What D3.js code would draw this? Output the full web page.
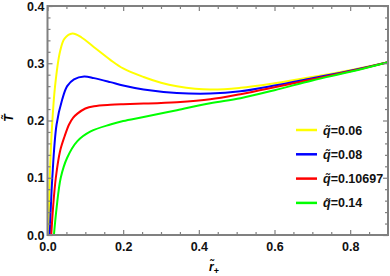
<!DOCTYPE html>
<html>
<head>
<meta charset="utf-8">
<script src="https://cdn.jsdelivr.net/npm/d3@7"></script>
<style>
  body { margin: 0; background: #fff; }
  svg text { font-family: "Liberation Sans", Arial, sans-serif; font-weight: bold; }
</style>
</head>
<body>
<svg id="chart"></svg>
<script>
// values
const qLabels = ["0.06", "0.08", "0.10697", "0.14"];
const colors = ["#ffff00", "#0000ff", "#ff0000", "#00ff00"];

const r006 = [0.003, 0.006, 0.012, 0.02, 0.033, 0.045, 0.066, 0.09, 0.123, 0.166, 0.2, 0.254, 0.3, 0.342, 0.43, 0.51, 0.6, 0.7, 0.8, 0.9];
const t006 = [0, 0.1, 0.19, 0.26, 0.32, 0.343, 0.352, 0.345, 0.328, 0.306, 0.291, 0.276, 0.266, 0.26, 0.254, 0.257, 0.265, 0.276, 0.288, 0.302];

const r008 = [0.006, 0.0127, 0.024, 0.039, 0.052, 0.07, 0.097, 0.123, 0.166, 0.2, 0.254, 0.342, 0.43, 0.51, 0.6, 0.7, 0.8, 0.9];
const t008 = [0, 0.1, 0.193, 0.237, 0.26, 0.272, 0.277, 0.274, 0.267, 0.261, 0.254, 0.248, 0.247, 0.251, 0.261, 0.274, 0.287, 0.302];

const r0107 = [0.01, 0.0146, 0.022, 0.033, 0.045, 0.057, 0.068, 0.079, 0.1, 0.123, 0.166, 0.2, 0.254, 0.342, 0.43, 0.51, 0.6, 0.7, 0.8, 0.9];
const t0107 = [0, 0.047, 0.1, 0.146, 0.172, 0.193, 0.205, 0.212, 0.221, 0.225, 0.2275, 0.2285, 0.2295, 0.232, 0.237, 0.246, 0.258, 0.272, 0.286, 0.302];

const r014 = [0.017, 0.024, 0.035, 0.052, 0.079, 0.114, 0.166, 0.2, 0.254, 0.342, 0.43, 0.51, 0.6, 0.7, 0.8, 0.9];
const t014 = [0, 0.047, 0.1, 0.135, 0.164, 0.181, 0.193, 0.199, 0.206, 0.218, 0.23, 0.239, 0.253, 0.27, 0.285, 0.302];

const xMajor = [0, 0.2, 0.4, 0.6, 0.8];
const yMajor = [0, 0.1, 0.2, 0.3, 0.4];

const width = 390, height = 276;
const margin = { top: 6, right: 2, bottom: 41, left: 47.5 };
const innerW = width - margin.left - margin.right;
const innerH = height - margin.top - margin.bottom;

const svg = d3.select("#chart").attr("width", width).attr("height", height);
const g = svg.append("g").attr("transform", `translate(${margin.left},${margin.top})`);

const x = d3.scaleLinear().domain([0, 0.9]).range([0, innerW]);
const y = d3.scaleLinear().domain([0, 0.4]).range([innerH, 0]);

const series = [
    { r: r006, t: t006 },
    { r: r008, t: t008 },
    { r: r0107, t: t0107 },
    { r: r014, t: t014 }
];

g.append("clipPath").attr("id", "clip")
    .append("rect").attr("width", innerW).attr("height", innerH);

const line = d3.line()
    .x(d => x(d[0]))
    .y(d => y(d[1]))
    .curve(d3.curveCatmullRom.alpha(0.5));

const curves = g.append("g").attr("clip-path", "url(#clip)");
series.forEach((s, i) => {
    curves.append("path")
        .datum(s.r.map((v, k) => [v, s.t[k]]))
        .attr("fill", "none")
        .attr("stroke", colors[i])
        .attr("stroke-width", 2)
        .attr("d", line);
});

// frame ticks (inward, all four sides)
const xMinor = d3.range(0.05, 0.9, 0.05).filter(v => !xMajor.some(m => Math.abs(m - v) < 1e-6));
const yMinor = d3.range(0.02, 0.4, 0.02).filter(v => !yMajor.some(m => Math.abs(m - v) < 1e-6));

function styleAxis(sel) {
    sel.select(".domain").remove();
    sel.selectAll("line").attr("stroke", "#808080").attr("stroke-width", 1.2);
    sel.selectAll("text").attr("fill", "#111").style("font-size", "12.5px");
}

// major ticks with labels
g.append("g").attr("transform", `translate(0,${innerH})`)
    .call(d3.axisBottom(x).tickValues(xMajor).tickSize(-5).tickPadding(7).tickFormat(d3.format(".1f")))
    .call(styleAxis);
g.append("g")
    .call(d3.axisLeft(y).tickValues(yMajor).tickSize(-5).tickPadding(3).tickFormat(d3.format(".1f")))
    .call(styleAxis);
g.append("g")
    .call(d3.axisTop(x).tickValues(xMajor).tickSize(-5).tickFormat(""))
    .call(styleAxis);
g.append("g").attr("transform", `translate(${innerW},0)`)
    .call(d3.axisRight(y).tickValues(yMajor).tickSize(-5).tickFormat(""))
    .call(styleAxis);

// minor ticks
g.append("g").attr("transform", `translate(0,${innerH})`)
    .call(d3.axisBottom(x).tickValues(xMinor).tickSize(-3).tickFormat(""))
    .call(styleAxis);
g.append("g")
    .call(d3.axisTop(x).tickValues(xMinor).tickSize(-3).tickFormat(""))
    .call(styleAxis);
g.append("g")
    .call(d3.axisLeft(y).tickValues(yMinor).tickSize(-3).tickFormat(""))
    .call(styleAxis);
g.append("g").attr("transform", `translate(${innerW},0)`)
    .call(d3.axisRight(y).tickValues(yMinor).tickSize(-3).tickFormat(""))
    .call(styleAxis);

// frame
g.append("rect")
    .attr("width", innerW).attr("height", innerH)
    .attr("fill", "none").attr("stroke", "#808080").attr("stroke-width", 2);

// axis titles
svg.append("text")
    .attr("transform", `translate(13,118) rotate(-90)`)
    .attr("text-anchor", "middle")
    .style("font-size", "12px").style("font-style", "italic")
    .text("T\u0303");

const xt = svg.append("text")
    .attr("x", 214).attr("y", 271)
    .attr("text-anchor", "middle")
    .style("font-size", "12px").style("font-style", "italic");
xt.append("tspan").text("r\u0303");
xt.append("tspan").attr("dy", 3).style("font-size", "9px").style("font-style", "normal").text("+");

// legend
const legend = svg.append("g").attr("transform", "translate(296,130)");
qLabels.forEach((q, i) => {
    const row = legend.append("g").attr("transform", `translate(0,${i * 24.3})`);
    row.append("line").attr("x1", 0).attr("x2", 21)
        .attr("stroke", colors[i]).attr("stroke-width", 2.5);
    const t = row.append("text").attr("x", 27).attr("y", 4.5).style("font-size", "12.5px").attr("fill", "#111");
    t.append("tspan").style("font-style", "italic").text("q\u0303");
    t.append("tspan").text("=" + q);
});
</script>
</body>
</html>
